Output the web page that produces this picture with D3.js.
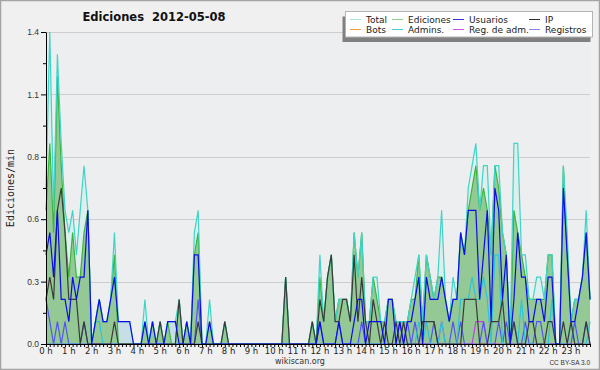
<!DOCTYPE html>
<html>
<head>
<meta charset="utf-8">
<script src="https://cdn.jsdelivr.net/npm/d3@7"></script>
<style>
  body { margin: 0; background: #f0f0f0; }
  text { font-family: "DejaVu Sans", sans-serif; }
</style>
</head>
<body>
<svg id="chart"></svg>
<script>
// one value every 10 minutes, edits per minute
const hourLabels = ["0 h","1 h","2 h","3 h","4 h","5 h","6 h","7 h","8 h","9 h","10 h","11 h",
  "12 h","13 h","14 h","15 h","16 h","17 h","18 h","19 h","20 h","21 h","22 h","23 h"];
const yTickValues = [0, 0.28, 0.56, 0.84, 1.12, 1.4];

const total = [
  0.7,1.4,0.6,1.3,0.9,0.6, 0.5,0.6,0.4,0.6,0.8,0.6,
  0,0.1,0.2,0.1,0.1,0.2, 0.5,0.1,0.1,0.1,0.1,0,
  0,0,0.2,0,0.1,0, 0.1,0,0.1,0.1,0.1,0.2,
  0,0.1,0,0.5,0.6,0, 0,0.2,0,0,0,0.1,
  0,0,0,0,0,0, 0,0,0,0,0,0,
  0,0,0,0.3,0,0, 0,0,0,0,0.1,0,
  0.4,0.1,0.3,0.4,0.1,0.2, 0.2,0.2,0.1,0.5,0.3,0.5,
  0.1,0.1,0.3,0.3,0.1,0.1, 0.2,0.2,0.1,0.1,0.1,0.1,
  0.2,0.3,0.4,0.1,0.4,0.3, 0.2,0.3,0.6,0.2,0.1,0.3,
  0.2,0.5,0.4,0.7,0.8,0.9, 0.6,0.8,0.8,0.4,0.8,0.8,
  0.5,0.4,0,0.9,0.9,0.4, 0.4,0.2,0.2,0.3,0.3,0.2,
  0.4,0.4,0,0,0.8,0.5, 0.1,0.2,0.2,0.3,0.6,0.2
];
const ediciones = [
  0.6,0.9,0.5,1.2,0.8,0.5, 0.3,0.5,0.3,0.3,0.5,0.6,
  0,0.1,0.2,0.1,0.1,0.2, 0.4,0,0,0,0,0,
  0,0,0.1,0,0.1,0, 0.1,0,0.1,0,0,0.2,
  0,0.1,0,0.4,0.5,0, 0,0.1,0,0,0,0.1,
  0,0,0,0,0,0, 0,0,0,0,0,0,
  0,0,0,0.3,0,0, 0,0,0,0,0.1,0,
  0.3,0.1,0.3,0.4,0.1,0.2, 0.2,0.2,0.1,0.5,0.3,0.5,
  0.1,0.1,0.3,0.2,0.1,0.1, 0.2,0.2,0.1,0.1,0.1,0.1,
  0.2,0.2,0.4,0.1,0.4,0.3, 0.2,0.3,0.3,0.2,0.1,0.2,
  0.2,0.5,0.4,0.6,0.7,0.8, 0.6,0.7,0.6,0.4,0.8,0.7,
  0.5,0.4,0,0.6,0.5,0.4, 0.3,0.2,0.2,0.2,0.2,0.2,
  0.4,0.4,0,0,0.8,0.4, 0.1,0.2,0.2,0.3,0.5,0.2
];
const usuarios = [
  0.4,0.5,0.3,0.6,0.2,0.2, 0.1,0.3,0.2,0.3,0.3,0.6,
  0,0.1,0.2,0.1,0.1,0.2, 0.3,0.1,0.1,0.1,0.1,0,
  0,0,0.1,0,0.1,0, 0,0,0.1,0.1,0.1,0,
  0,0.1,0,0.4,0.4,0, 0,0.1,0,0,0,0,
  0,0,0,0,0,0, 0,0,0,0,0,0,
  0,0,0,0,0,0, 0,0,0,0,0,0,
  0.1,0,0,0,0,0.1, 0,0,0,0.1,0.2,0.2,
  0,0.1,0.1,0.1,0.1,0, 0.2,0.2,0,0.1,0,0.1,
  0.1,0.2,0.3,0,0.3,0.2, 0.2,0.2,0.3,0.2,0.1,0.2,
  0.2,0.5,0.4,0.6,0.6,0.6, 0.2,0.4,0.6,0.1,0.7,0.6,
  0.2,0.4,0,0.2,0.5,0.3, 0.3,0.1,0.1,0.2,0.2,0.1,
  0.3,0.3,0,0,0.7,0.4, 0.1,0.1,0.2,0.3,0.5,0.2
];
const ip = [
  0.2,0.3,0.2,0.6,0.7,0.5, 0.2,0.2,0.2,0,0.1,0,
  0,0,0,0,0,0, 0.1,0,0,0,0,0,
  0,0,0,0,0,0, 0.1,0,0,0,0,0.2,
  0,0,0,0,0.1,0, 0,0,0,0,0,0.1,
  0,0,0,0,0,0, 0,0,0,0,0,0,
  0,0,0,0.3,0,0, 0,0,0,0,0.1,0,
  0.2,0.1,0.3,0.4,0.1,0.1, 0.2,0.2,0.1,0.4,0.1,0.3,
  0.1,0,0.2,0.1,0,0.1, 0,0,0.1,0,0.1,0,
  0,0,0,0.1,0.1,0.1, 0.1,0,0,0,0,0,
  0,0,0.2,0.2,0.2,0.2, 0,0,0,0.1,0.1,0.1,
  0.2,0,0,0.1,0,0, 0,0.1,0.1,0,0,0,
  0.1,0.1,0,0,0.1,0, 0.1,0,0,0,0.1,0
];
const bots = [
  0,0,0,0,0,0, 0,0,0,0,0,0,  0,0,0,0,0,0, 0,0,0,0,0,0,
  0,0,0,0,0,0, 0,0,0,0,0,0,  0,0,0,0,0,0, 0,0,0,0,0,0,
  0,0,0,0,0,0, 0,0,0,0,0,0,  0,0,0,0,0,0, 0,0,0,0,0,0,
  0,0,0,0,0,0, 0,0,0,0,0,0,  0,0,0,0,0,0, 0,0,0,0,0,0,
  0,0,0,0,0,0, 0,0,0,0,0,0,  0,0,0,0,0,0, 0,0,0,0,0,0,
  0,0,0,0,0,0, 0,0,0,0,0,0,  0,0,0,0,0,0, 0,0,0,0,0,0
];
const admins = [
  0,0,0,0,0,0, 0,0,0,0,0,0,
  0,0.1,0.1,0,0,0, 0,0,0,0,0,0,
  0,0,0,0,0,0, 0,0,0,0,0,0,
  0,0,0,0,0,0, 0,0,0,0,0,0,
  0,0,0,0,0,0, 0,0,0,0,0,0,
  0,0,0,0,0,0, 0,0,0,0,0,0,
  0,0,0,0,0,0, 0,0,0,0,0,0,
  0,0,0,0,0,0, 0,0,0,0,0,0,
  0,0,0.1,0,0.1,0, 0,0,0.1,0,0,0,
  0,0.2,0.2,0.2,0.3,0.2, 0.2,0.3,0.2,0,0.4,0.4,
  0,0,0,0.1,0,0.2, 0,0,0,0,0,0,
  0,0.2,0,0,0,0, 0.1,0,0,0,0,0.1
];
const regAdm = [
  0,0,0,0,0,0, 0,0,0,0,0,0,  0,0,0,0,0,0, 0,0,0,0,0,0,
  0,0,0,0,0,0, 0,0,0,0,0,0,  0,0,0,0,0,0, 0,0,0,0,0,0,
  0,0,0,0,0,0, 0,0,0,0,0,0,  0,0,0,0,0,0, 0,0,0,0,0,0,
  0,0,0,0,0,0, 0,0,0,0,0,0,  0,0,0,0,0,0, 0,0,0,0,0,0,
  0,0,0,0,0,0, 0,0,0.1,0,0,0,  0,0,0,0,0,0.1, 0.1,0.1,0,0,0,0,
  0,0,0,0.1,0,0, 0,0,0,0,0,0,  0,0,0,0,0,0, 0,0,0,0,0,0
];
const registros = [
  0.2,0.1,0,0.1,0,0.1, 0,0,0,0,0.1,0,
  0,0,0,0,0,0, 0,0,0,0,0,0,
  0,0,0,0,0,0, 0,0,0,0,0,0,
  0,0,0,0,0.2,0, 0,0,0,0,0,0,
  0,0,0,0,0,0, 0,0,0,0,0,0,
  0,0,0,0,0,0, 0,0,0,0,0,0,
  0.1,0,0,0,0,0.1, 0,0,0,0,0,0.1,
  0,0,0,0,0,0, 0,0,0,0.1,0,0.1,
  0,0.1,0,0,0,0, 0.1,0,0,0,0,0.1,
  0,0.1,0,0,0,0, 0,0.1,0,0,0,0.1,
  0,0.1,0,0,0,0, 0.1,0,0,0.1,0.1,0,
  0,0,0,0,0,0, 0,0.1,0,0,0.1,0
];

const legendNames = ["Total", "Ediciones", "Usuarios", "IP", "Bots", "Admins.", "Reg. de adm.", "Registros"];

const width = 600, height = 370;
const plot = {left: 46, right: 590, top: 32, bottom: 344};

const lineColors = {
  "Total": "#3fd4c6", "Ediciones": "#3cb43c", "Usuarios": "#0c0ce8", "IP": "#3a3a3a",
  "Bots": "#f0a040", "Admins.": "#2cc4d8", "Reg. de adm.": "#c040e0", "Registros": "#5454f0"
};
const swatchColors = {
  "Total": "#a4e4dc", "Ediciones": "#8cd28c", "Usuarios": "#3434dc", "IP": "#303030",
  "Bots": "#f0a040", "Admins.": "#48c8dc", "Reg. de adm.": "#c858e0", "Registros": "#8484ec"
};

const svg = d3.select("#chart").attr("width", width).attr("height", height);

svg.append("rect")
  .attr("x", 0.5).attr("y", 0.5).attr("width", width - 1).attr("height", height - 1)
  .attr("fill", "#f0f0f0").attr("stroke", "#a4a4a4").attr("stroke-width", 1.5);

let x = d3.scaleLinear().domain([0, total.length - 1]).range([plot.left, plot.right]);
let y = d3.scaleLinear().domain([0, 1.4]).range([plot.bottom, plot.top]);

svg.append("rect")
  .attr("x", plot.left).attr("y", plot.top)
  .attr("width", plot.right - plot.left).attr("height", plot.bottom - plot.top)
  .attr("fill", "#eceef0");

// grid
svg.append("g")
  .selectAll("line")
  .data(yTickValues.filter(d => d > 0))
  .enter().append("line")
  .attr("x1", plot.left).attr("x2", plot.right)
  .attr("y1", d => Math.round(y(d)) + 0.5).attr("y2", d => Math.round(y(d)) + 0.5)
  .attr("stroke", "#cdcdcd").attr("stroke-width", 1);

let area = d3.area()
  .x((d, i) => x(i))
  .y0(y(0))
  .y1(d => y(d));

let line = d3.line()
  .x((d, i) => x(i))
  .y(d => y(d));

svg.append("path").datum(total).attr("d", area).attr("fill", "#dcefed");
svg.append("path").datum(usuarios).attr("d", area).attr("fill", "#c6dfe7");
svg.append("path").datum(ediciones).attr("d", area).attr("fill", "#94c995");

// lines, back to front
let series = [
  ["Bots", bots], ["Reg. de adm.", regAdm], ["Registros", registros], ["Admins.", admins],
  ["Ediciones", ediciones], ["Total", total], ["IP", ip], ["Usuarios", usuarios]
];
svg.append("g")
  .selectAll("path")
  .data(series)
  .enter().append("path")
  .attr("d", d => line(d[1]))
  .attr("fill", "none")
  .attr("stroke", d => lineColors[d[0]])
  .attr("stroke-width", 1.2)
  .attr("stroke-linejoin", "miter");

// y axis
let yAxis = d3.axisLeft(y)
  .tickValues(yTickValues)
  .tickSize(5)
  .tickSizeOuter(0)
  .tickFormat(d3.format(".1f"));

let yMinor = d3.axisLeft(y)
  .tickValues(yTickValues.slice(1).map((d, i) => (d + yTickValues[i]) / 2))
  .tickSize(3)
  .tickSizeOuter(0)
  .tickFormat("");

let gy = svg.append("g")
  .attr("transform", "translate(" + plot.left + ",0)")
  .call(yAxis);
gy.select(".domain").attr("stroke", "#000");
gy.selectAll(".tick line").attr("stroke", "#000");
gy.selectAll(".tick text")
  .attr("x", -7).attr("dy", "0.32em")
  .style("font-family", "'Liberation Sans', sans-serif")
  .style("font-size", "8.5px")
  .attr("fill", "#333");

svg.append("g")
  .attr("transform", "translate(" + plot.left + ",0)")
  .call(yMinor)
  .call(g => g.select(".domain").remove())
  .selectAll(".tick line").attr("stroke", "#000");

// x axis
let xAxis = d3.axisBottom(x)
  .tickValues(d3.range(0, total.length))
  .tickSize(3)
  .tickSizeOuter(0)
  .tickFormat("");

let gx = svg.append("g")
  .attr("transform", "translate(0," + plot.bottom + ")")
  .call(xAxis);
gx.select(".domain").attr("stroke", "#000").attr("stroke-width", 1.2);
gx.selectAll(".tick line").attr("stroke", "#000");

svg.append("g")
  .selectAll("text")
  .data(hourLabels)
  .enter().append("text")
  .attr("x", (d, i) => x(i * 6))
  .attr("y", 353.5)
  .attr("text-anchor", "middle")
  .style("font-size", "8.5px")
  .attr("fill", "#222")
  .text(d => d);

// titles
svg.append("text")
  .attr("x", 154).attr("y", 21)
  .attr("text-anchor", "middle")
  .style("font-size", "11.5px")
  .style("font-weight", "bold")
  .attr("fill", "#111")
  .text("Ediciones  2012-05-08")
  .attr("xml:space", "preserve")
  .style("white-space", "pre");

svg.append("text")
  .attr("transform", "translate(14,188) rotate(-90)")
  .attr("text-anchor", "middle")
  .style("font-family", "'DejaVu Sans Mono', monospace")
  .style("font-size", "10px")
  .attr("fill", "#222")
  .text("Ediciones/min");

svg.append("text")
  .attr("x", 300).attr("y", 364)
  .attr("text-anchor", "middle")
  .style("font-size", "8px")
  .attr("fill", "#333")
  .text("wikiscan.org");

svg.append("text")
  .attr("x", 590).attr("y", 365)
  .attr("text-anchor", "end")
  .style("font-family", "'Liberation Sans', sans-serif")
  .style("font-size", "6.5px")
  .attr("fill", "#333")
  .text("CC BY-SA 3.0");

// legend
let legendCols = [366, 408, 469, 545];
let legendRows = [19, 29];

let legend = svg.append("g");
legend.append("rect")
  .attr("x", 342.5).attr("y", 16.5).attr("width", 248).attr("height", 25.5)
  .attr("fill", "#808080");
legend.append("rect")
  .attr("x", 345.5).attr("y", 11.5).attr("width", 247).attr("height", 25.5)
  .attr("fill", "#fff").attr("stroke", "#b4b4b4");

let item = legend.selectAll(".item")
  .data(legendNames)
  .enter().append("g")
  .attr("class", "item")
  .attr("transform", (d, i) => "translate(" + legendCols[i % 4] + "," + legendRows[Math.floor(i / 4)] + ")");

item.append("line")
  .attr("x1", -16).attr("x2", -5)
  .attr("y1", 0.5).attr("y2", 0.5)
  .attr("stroke", d => swatchColors[d]);

item.append("text")
  .attr("y", 3.5)
  .style("font-size", "9px")
  .attr("fill", "#222")
  .text(d => d);
</script>
</body>
</html>
